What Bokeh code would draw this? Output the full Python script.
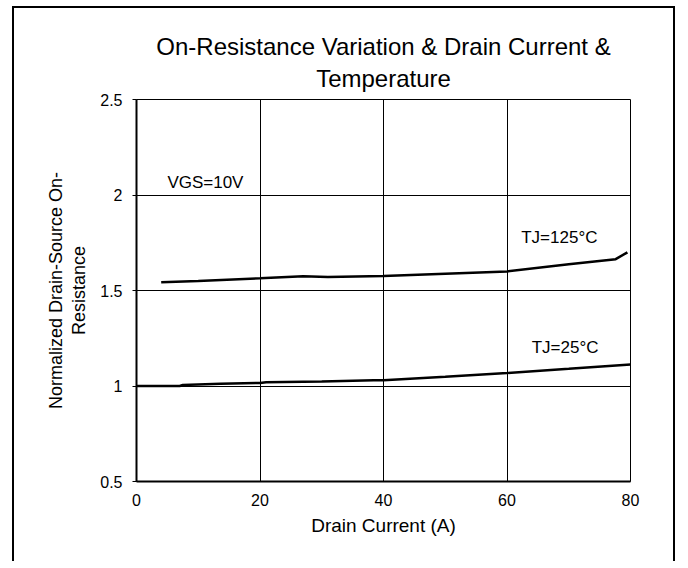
from bokeh.plotting import figure
from bokeh.models import Range1d, FixedTicker, CustomJSTickFormatter, Label, Title
from bokeh.embed import file_html
from bokeh.resources import INLINE

# ---- data ----
x_125 = [4, 10, 20, 27, 31, 40, 50, 60, 70, 77.6, 79.5]
y_125 = [1.543, 1.55, 1.564, 1.574, 1.571, 1.576, 1.588, 1.600, 1.638, 1.664, 1.700]

x_25 = [0, 7, 7.5, 13.6, 20, 21, 30, 38.4, 40, 50, 60, 70, 80]
y_25 = [1.000, 1.000, 1.005, 1.012, 1.016, 1.020, 1.024, 1.030, 1.030, 1.048, 1.068, 1.090, 1.113]

x_ticks = [0, 20, 40, 60, 80]
y_ticks = [0.5, 1, 1.5, 2, 2.5]

title_line1 = "On-Resistance Variation & Drain Current &"
title_line2 = "Temperature"
x_label = "Drain Current (A)"
y_label = "Normalized Drain-Source On-\nResistance"

notes = [("VGS=10V", 5.0, 2.067), ("TJ=125°C", 62.3, 1.78), ("TJ=25°C", 64.0, 1.20)]

FONT = "Liberation Sans"

p = figure(width=663, height=555, output_backend="svg", toolbar_location=None,
           x_range=Range1d(0, 80), y_range=Range1d(0.5, 2.5),
           min_border_left=122, min_border_right=47, min_border_top=91, min_border_bottom=82)
p.styles = {"border-left": "2px solid black", "border-top": "2px solid black",
            "border-right": "2px solid black", "margin-left": "12px", "margin-top": "6px"}

p.title = None
t2 = Title(text=title_line2, align="center", text_font=FONT, text_font_size="24px",
           text_font_style="normal", text_color="black", standoff=16)
t1 = Title(text=title_line1, align="center", text_font=FONT, text_font_size="24px",
           text_font_style="normal", text_color="black", standoff=-10)
p.add_layout(t2, "above")
p.add_layout(t1, "above")

p.background_fill_color = "white"
p.border_fill_color = "white"
p.outline_line_color = "black"
p.outline_line_width = 1

for ax in (p.xaxis[0], p.yaxis[0]):
    ax.axis_line_color = "black"
    ax.axis_line_width = 2
    ax.major_tick_in = 0
    ax.minor_tick_line_color = None
    ax.major_label_text_font = FONT
    ax.major_label_text_font_size = "16px"
    ax.major_label_text_color = "black"
    ax.axis_label_text_font = FONT
    ax.axis_label_text_font_size = "18px"
    ax.axis_label_text_font_style = "normal"
    ax.axis_label_text_color = "black"
    ax.formatter = CustomJSTickFormatter(code="return tick.toString();")

p.xaxis.ticker = FixedTicker(ticks=x_ticks)
p.yaxis.ticker = FixedTicker(ticks=y_ticks)
p.xaxis.axis_label = x_label
p.xaxis.axis_label_text_font_size = "19px"
p.yaxis.axis_label = y_label
p.yaxis.axis_label_text_line_height = 1.15
p.xaxis.major_tick_out = 0
p.xaxis.major_label_standoff = 12
p.xaxis.axis_label_standoff = 6
p.yaxis.major_tick_out = 4
p.yaxis.major_tick_line_color = "black"
p.yaxis.major_label_standoff = 10
p.yaxis.axis_label_standoff = 8

p.xgrid.ticker = FixedTicker(ticks=x_ticks)
p.ygrid.ticker = FixedTicker(ticks=y_ticks)
p.grid.grid_line_color = "black"
p.grid.grid_line_width = 1
p.grid.grid_line_alpha = 1

p.line(x_125, y_125, line_color="black", line_width=2.5)
p.line(x_25, y_25, line_color="black", line_width=2.5)

for txt, lx, ly in notes:
    p.add_layout(Label(x=lx, y=ly, text=txt, text_font=FONT, text_font_size="17px",
                       text_color="black", text_baseline="middle", text_align="left"))

open("out.html", "w").write(file_html(p, INLINE))
